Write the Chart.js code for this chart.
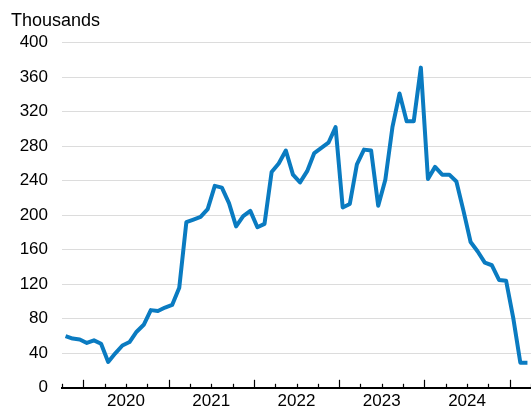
<!DOCTYPE html>
<html>
<head>
<meta charset="utf-8">
<script src="https://cdn.jsdelivr.net/npm/chart.js@4.4.1/dist/chart.umd.min.js"></script>
<style>
  html, body { margin: 0; padding: 0; background: #fff; overflow: hidden; }
  canvas { display: block; }
</style>
</head>
<body>
<canvas id="chart" width="531" height="412" style="width:531px;height:412px"></canvas>
<script>
// ---- data (monthly, Oct 2019 .. Mar 2025), thousands ----
const startYear = 2019;
const startMonth = 10; // October
const values = [
  60, 57, 56,
  52, 55, 51, 30, 40, 49, 53, 65, 73, 90, 89, 93,
  96, 116, 192, 195, 198, 207, 234, 232, 214, 187, 199, 205,
  186, 190, 250, 260, 275, 247, 238, 251, 272, 278, 284, 302,
  209, 213, 259, 276, 275, 211, 241, 302, 341, 309, 309, 371,
  242, 256, 247, 247, 239, 205, 169, 158, 145, 142, 125, 124,
  81, 29, 29
];
const yearLabels = ['2020', '2021', '2022', '2023', '2024'];
const yTicks = [0, 40, 80, 120, 160, 200, 240, 280, 320, 360, 400];

// x value = months since Jan 2020, plotted mid-month
const offset = (startYear - 2020) * 12 + (startMonth - 1);
const points = values.map((v, i) => ({ x: offset + i + 0.5, y: v }));

const FONT = "'Liberation Sans', Arial, sans-serif";

// quarter tick marks, taller at year boundaries
const tickMarks = {
  id: 'tickMarks',
  afterDraw(chart) {
    const xs = chart.scales.x;
    const ctx = chart.ctx;
    const y0 = chart.chartArea.bottom;
    ctx.save();
    ctx.strokeStyle = '#000';
    ctx.lineWidth = 1.2;
    for (let m = xs.min; m <= xs.max; m += 3) {
      const px = Math.round(xs.getPixelForValue(m)) + 0.5;
      const len = (m % 12 === 0) ? 8 : 4;
      ctx.beginPath();
      ctx.moveTo(px, y0);
      ctx.lineTo(px, y0 - len);
      ctx.stroke();
    }
    ctx.restore();
  }
};

new Chart(document.getElementById('chart'), {
  type: 'line',
  data: {
    datasets: [{
      data: points,
      borderColor: '#0a7bc1',
      borderWidth: 4,
      borderJoinStyle: 'round',
      pointRadius: 0,
      tension: 0
    }]
  },
  options: {
    responsive: false,
    animation: false,
    layout: { padding: { left: 11, right: 0, top: 0, bottom: 0 } },
    plugins: {
      legend: { display: false },
      tooltip: { enabled: false },
      title: {
        display: true,
        text: 'Thousands',
        align: 'start',
        color: '#000',
        font: { family: FONT, size: 18, weight: 'normal' },
        padding: { top: 10, bottom: 11 }
      }
    },
    scales: {
      x: {
        type: 'linear',
        min: offset,
        max: 63,
        afterBuildTicks: (s) => { s.ticks = yearLabels.map((y, i) => ({ value: i * 12 + 6 })); },
        afterFit: (s) => { s.height = 21; },
        grid: { display: false, drawTicks: false },
        border: { display: true, color: '#000', width: 2 },
        ticks: {
          autoSkip: false,
          maxRotation: 0,
          padding: 3,
          color: '#000',
          font: { family: FONT, size: 17 },
          callback: (v) => yearLabels[Math.round((v - 6) / 12)]
        }
      },
      y: {
        min: 0,
        max: 400,
        afterBuildTicks: (s) => { s.ticks = yTicks.map(v => ({ value: v })); },
        afterFit: (s) => { s.width = 51; },
        grid: { color: '#dcdcdc', lineWidth: 1, drawTicks: false },
        border: { display: false },
        ticks: {
          padding: 14,
          color: '#000',
          font: { family: FONT, size: 17 }
        }
      }
    }
  },
  plugins: [tickMarks]
});
</script>
</body>
</html>
